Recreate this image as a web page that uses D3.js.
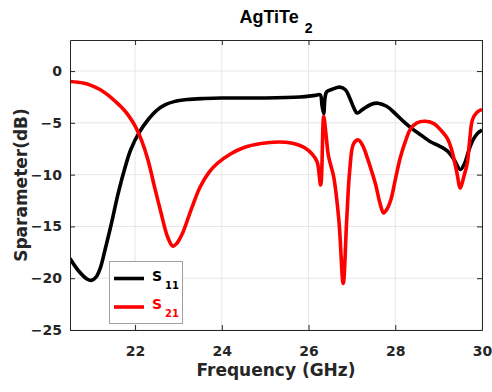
<!DOCTYPE html>
<html>
<head>
<meta charset="utf-8">
<script src="https://cdn.jsdelivr.net/npm/d3@7/dist/d3.min.js"></script>
<style>
  html, body { margin: 0; padding: 0; background: #fff; }
  svg { display: block; font-family: "DejaVu Sans", sans-serif; }
</style>
</head>
<body>
<svg id="chart" width="492" height="392"></svg>
<script>
// ---- data ----
const freqS11 = [20.5, 20.7, 20.9, 21.0, 21.1, 21.2, 21.3, 21.45, 21.6, 21.75, 21.9, 22.1, 22.3, 22.5, 22.7, 22.9, 23.2, 23.6, 24.0, 25.0, 25.8, 26.15, 26.27, 26.31, 26.35, 26.38, 26.42, 26.55, 26.72, 26.85, 26.95, 27.05, 27.12, 27.25, 27.45, 27.6, 27.8, 28.0, 28.2, 28.4, 28.6, 28.8, 29.0, 29.2, 29.35, 29.5, 29.6, 29.7, 29.8, 29.9, 30.0];
const s11     = [-18.1, -19.3, -20.1, -20.2, -19.9, -19.0, -17.4, -14.8, -12.0, -9.6, -7.6, -5.9, -4.7, -3.8, -3.25, -2.95, -2.75, -2.65, -2.6, -2.6, -2.5, -2.35, -2.3, -3.3, -4.1, -2.6, -2.0, -1.75, -1.55, -1.8, -2.6, -3.6, -4.05, -3.7, -3.2, -3.1, -3.4, -4.1, -4.9, -5.6, -6.2, -6.8, -7.2, -7.7, -8.5, -9.5, -8.9, -7.6, -6.6, -6.0, -5.7];

const freqS21 = [20.5, 20.8, 21.0, 21.2, 21.4, 21.55, 21.7, 21.85, 22.0, 22.15, 22.3, 22.45, 22.6, 22.75, 22.87, 22.97, 23.1, 23.3, 23.5, 23.7, 23.9, 24.2, 24.5, 24.9, 25.3, 25.6, 25.93, 26.1, 26.2, 26.28, 26.35, 26.4, 26.46, 26.58, 26.7, 26.8, 26.88, 26.95, 27.04, 27.15, 27.25, 27.35, 27.45, 27.55, 27.65, 27.73, 27.8, 27.9, 28.0, 28.12, 28.25, 28.35, 28.5, 28.7, 28.9, 29.05, 29.2, 29.3, 29.42, 29.5, 29.58, 29.66, 29.72, 29.78, 29.88, 30.0];
const s21     = [-1.0, -1.15, -1.4, -1.8, -2.4, -2.95, -3.55, -4.3, -5.3, -6.7, -8.6, -11.2, -13.7, -16.0, -16.9, -16.6, -15.6, -13.3, -11.2, -9.8, -8.9, -8.0, -7.4, -7.0, -6.85, -6.95, -7.45, -8.1, -8.8, -11.0, -4.4, -6.0, -8.2, -10.2, -14.4, -20.5, -14.4, -9.6, -7.0, -6.65, -7.2, -8.3, -9.6, -11.0, -12.8, -13.7, -13.4, -12.4, -10.5, -8.3, -6.6, -5.6, -5.0, -4.85, -5.1, -5.7, -6.5, -7.6, -9.8, -11.3, -10.2, -8.9, -6.5, -4.7, -4.0, -3.7];

const xTicks = [22, 24, 26, 28, 30];
const yTicks = [-25, -20, -15, -10, -5, 0];
const seriesNames = ["11", "21"];
const seriesColors = ["#000000", "#ff0000"];
const chartTitle = "AgTiTe";
const titleSub = "2";

// ---- layout ----
const svg = d3.select("#chart");
const L = 70, R = 482, T = 40, B = 330;
const x = d3.scaleLinear().domain([20.5, 30]).range([L, R]);
const y = d3.scaleLinear().domain([-25, 3]).range([B, T]);
const FONT = "'DejaVu Sans', sans-serif";

// grid
const grid = svg.append("g");
grid.selectAll(".gx").data(xTicks).enter().append("line")
  .attr("x1", d => x(d)).attr("x2", d => x(d)).attr("y1", T).attr("y2", B)
  .attr("stroke", "#e6e6e6").attr("stroke-width", 1);
grid.selectAll(".gy").data(yTicks).enter().append("line")
  .attr("x1", L).attr("x2", R).attr("y1", d => y(d)).attr("y2", d => y(d))
  .attr("stroke", "#e6e6e6").attr("stroke-width", 1);

// curves
const line = d3.line().curve(d3.curveCatmullRom.alpha(0.5));
svg.append("clipPath").attr("id", "clip").append("rect")
  .attr("x", L).attr("y", T).attr("width", R - L).attr("height", B - T);
const plotG = svg.append("g").attr("clip-path", "url(#clip)");
plotG.append("path")
  .attr("d", line(freqS11.map((f, i) => [x(f), y(s11[i])])))
  .attr("fill", "none").attr("stroke", seriesColors[0]).attr("stroke-width", 3.6)
  .attr("stroke-linejoin", "round");
plotG.append("path")
  .attr("d", line(freqS21.map((f, i) => [x(f), y(s21[i])])))
  .attr("fill", "none").attr("stroke", seriesColors[1]).attr("stroke-width", 3.6)
  .attr("stroke-linejoin", "round");

// axes (box with inward ticks)
const axCol = "#262626";
const tickLen = 5;
const xAxB = d3.axisBottom(x).tickValues(xTicks).tickSizeInner(-tickLen).tickSizeOuter(0).tickPadding(16);
const xAxT = d3.axisTop(x).tickValues(xTicks).tickSizeInner(-tickLen).tickSizeOuter(0).tickFormat("");
const yAxL = d3.axisLeft(y).tickValues(yTicks).tickSizeInner(-tickLen).tickSizeOuter(0).tickPadding(8);
const yAxR = d3.axisRight(y).tickValues(yTicks).tickSizeInner(-tickLen).tickSizeOuter(0).tickFormat("");

function styleAxis(g) {
  g.select(".domain").attr("stroke", axCol).attr("stroke-width", 1);
  g.selectAll(".tick line").attr("stroke", axCol);
  g.selectAll(".tick text").attr("fill", "#262626")
    .style("font-size", "14px").style("font-weight", "bold")
    .style("font-family", FONT);
}
svg.append("g").attr("transform", `translate(0,${B})`).call(xAxB).call(styleAxis);
svg.append("g").attr("transform", `translate(0,${T})`).call(xAxT).call(styleAxis);
svg.append("g").attr("transform", `translate(${L},0)`).call(yAxL).call(styleAxis);
svg.append("g").attr("transform", `translate(${R},0)`).call(yAxR).call(styleAxis);

// labels
const title = svg.append("text").attr("x", (L + R) / 2).attr("y", 23)
  .attr("text-anchor", "middle").style("font-size", "18px").style("font-weight", "bold")
  .style("font-family", "'Liberation Sans', Arial, sans-serif")
  .attr("fill", "#000");
title.append("tspan").text(chartTitle);
title.append("tspan").text(titleSub).attr("dy", 10).attr("dx", 6).style("font-size", "14px");

svg.append("text").attr("x", (L + R) / 2).attr("y", 376)
  .attr("text-anchor", "middle").style("font-size", "17px").style("font-weight", "bold")
  .attr("fill", "#262626").text("Frequency (GHz)");

svg.append("text").attr("transform", `translate(27,${(T + B) / 2}) rotate(-90)`)
  .attr("text-anchor", "middle").style("font-size", "17px").style("font-weight", "bold")
  .attr("fill", "#262626").text("Sparameter(dB)");

// legend
const lg = svg.append("g");
lg.append("rect").attr("x", 109.5).attr("y", 261.5).attr("width", 73).attr("height", 62)
  .attr("fill", "#fff").attr("stroke", "#a0a0a0").attr("stroke-width", 1);
seriesNames.forEach((s, i) => {
  const yy = 278.5 + i * 28.5;
  lg.append("line").attr("x1", 114).attr("x2", 144).attr("y1", yy).attr("y2", yy)
    .attr("stroke", seriesColors[i]).attr("stroke-width", 3.6);
  const t = lg.append("text").attr("x", 152).attr("y", yy + 2)
    .style("font-size", "14px").style("font-weight", "bold").attr("fill", seriesColors[i]);
  t.append("tspan").text("S");
  t.append("tspan").text(s).attr("dy", 8).attr("dx", 3).style("font-size", "10px");
});
</script>
</body>
</html>
